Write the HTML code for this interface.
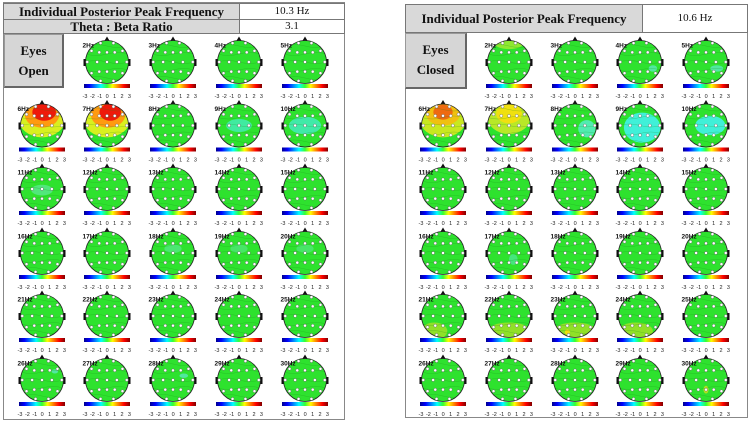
<!DOCTYPE html>
<html><head><meta charset="utf-8">
<style>
body{margin:0;background:#fff;width:750px;height:423px;overflow:hidden;position:relative;font-family:"Liberation Serif",serif}
.b{position:absolute;box-sizing:border-box}
.hd{background:#d9d9d9;border:1px solid #777;font-weight:bold;font-size:13px;text-align:center;color:#111}
.val{background:#fff;border:1px solid #777;font-size:11px;text-align:center;color:#111}
.eye{background:#d6d6d6;border:1px solid #999;border-right:2px solid #666;border-bottom:2px solid #666;font-weight:bold;font-size:13px;text-align:center;line-height:20px;padding-top:6px;color:#111}
svg{position:absolute;left:0;top:0}
</style></head><body>
<div class="b" style="left:3px;top:2px;width:342px;height:418px;border:1px solid #888"></div>
<div class="b hd" style="left:3px;top:3px;width:237px;height:17px;line-height:15px">Individual Posterior Peak Frequency</div>
<div class="b val" style="left:239px;top:3px;width:106px;height:17px;line-height:15px">10.3 Hz</div>
<div class="b hd" style="left:3px;top:19px;width:237px;height:15px;line-height:13px">Theta : Beta Ratio</div>
<div class="b val" style="left:239px;top:19px;width:106px;height:15px;line-height:13px">3.1</div>
<div class="b eye" style="left:4px;top:34px;width:60px;height:54px">Eyes<br>Open</div>

<div class="b" style="left:405px;top:4px;width:343px;height:414px;border:1px solid #888"></div>
<div class="b hd" style="left:405px;top:4px;width:238px;height:29px;line-height:27px">Individual Posterior Peak Frequency</div>
<div class="b val" style="left:642px;top:4px;width:106px;height:29px;line-height:27px">10.6 Hz</div>
<div class="b eye" style="left:405px;top:33px;width:62px;height:56px">Eyes<br>Closed</div>

<svg id="s" width="750" height="423" xmlns="http://www.w3.org/2000/svg">
<defs>
<linearGradient id="jet" x1="0" x2="1" y1="0" y2="0">
<stop offset="0" stop-color="#00008f"/><stop offset="0.12" stop-color="#0000ff"/><stop offset="0.37" stop-color="#00ffff"/><stop offset="0.5" stop-color="#33ff33"/><stop offset="0.62" stop-color="#ffff00"/><stop offset="0.87" stop-color="#ff0000"/><stop offset="1" stop-color="#800000"/>
</linearGradient>
</defs>
</svg>
<script>
var s=document.getElementById('s'),h='';
var G='#2ee22e';
var E=[[-.3,-.88],[.3,-.88],[-.72,-.52],[-.36,-.45],[0,-.45],[.36,-.45],[.72,-.52],[-.92,0],[-.46,0],[0,0],[.46,0],[.92,0],[-.72,.52],[-.36,.45],[0,.45],[.36,.45],[.72,.52],[-.3,.88],[.3,.88]];
var rows=[62,125.5,189,253,316,380];
var L=[42,107,173,239,305],R=[443,509,575,640,706];
// spots: [dx,dy,rx,ry,color,opacity]
var SP={
'L6':[[0,-.35,1.1,.9,'#d8f020',1],[0,-.5,.8,.6,'#ff9a10',1],[.1,-.62,.55,.4,'#ee1a0a',1]],
'L7':[[0,-.35,1.1,.9,'#d8f020',1],[.05,-.5,.8,.6,'#ff9a10',1],[.15,-.62,.5,.4,'#ee1a0a',1]],
'L9':[[0,0,.6,.3,'#40eaa0',1]],
'L10':[[0,0,.75,.4,'#40eaa8',1]],
'L11':[[0,.05,.5,.25,'#5ae890',.8]],
'L18':[[0,-.2,.4,.2,'#5ae890',.7]],
'L19':[[0,-.2,.4,.2,'#5ae890',.6]],
'L20':[[0,-.2,.4,.2,'#5ae890',.6]],
'R2':[[0,-.9,.7,.3,'#8ee830',1]],
'R4':[[.6,.3,.2,.15,'#50e8a0',1]],
'R5':[[.5,.3,.3,.15,'#50e8a0',1]],
'R6':[[0,-.35,1.1,.9,'#c8e820',1],[0,-.55,.8,.55,'#f0c010',1],[0,-.62,.45,.35,'#ee6a10',1]],
'R7':[[0,-.4,1,.8,'#b8e828',1],[0,-.55,.6,.45,'#f0e010',1]],
'R8':[[.55,.15,.4,.4,'#50ecb0',1]],
'R9':[[.1,.1,.85,.7,'#40f0d8',1]],
'R10':[[.2,0,.7,.45,'#40f0d8',1]],
'R17':[[.2,.3,.2,.25,'#50e8a0',.7]],
'R21':[[-.4,.7,.6,.4,'#90e028',1]],
'R22':[[0,.7,1,.4,'#90e028',1]],
'R23':[[0,.7,1,.4,'#90e028',1],[-.35,.75,.12,.12,'#f0e010',1]],
'R24':[[-.2,.7,.8,.4,'#90e028',1]],
'R30':[[0,.45,.12,.18,'#b0e020',1]],
'L26':[[.6,-.4,.15,.1,'#50e8a0',1]],
'L28':[[.5,-.2,.2,.1,'#50e8a0',1]]
};
var id=0;
function head(cx,cy,lab,key){
 var r=21.5;id++;
 h+='<clipPath id="c'+id+'"><circle cx="'+cx+'" cy="'+cy+'" r="'+r+'"/></clipPath>';
 h+='<polygon points="'+(cx-3)+','+(cy-r+1)+' '+cx+','+(cy-r-4)+' '+(cx+3)+','+(cy-r+1)+'" fill="#111"/>';
 h+='<rect x="'+(cx-r-2)+'" y="'+(cy-3)+'" width="3" height="7" fill="#111"/><rect x="'+(cx+r-1)+'" y="'+(cy-3)+'" width="3" height="7" fill="#111"/>';
 h+='<circle cx="'+cx+'" cy="'+cy+'" r="'+r+'" fill="'+G+'"/>';
 var sp=SP[key]||[];
 h+='<g clip-path="url(#c'+id+')">';
 sp.forEach(function(p){h+='<ellipse cx="'+(cx+p[0]*r)+'" cy="'+(cy+p[1]*r)+'" rx="'+(p[2]*r)+'" ry="'+(p[3]*r)+'" fill="'+p[4]+'" opacity="'+p[5]+'"/>';});
 for(var k=-2;k<=2;k++)h+='<path d="M'+(cx-r)+','+(cy+k*8)+' q'+r/2+','+(k%2?3:-3)+' '+r+',0 t'+r+',0" fill="none" stroke="#1a8a1a" stroke-width="0.3" opacity="0.6"/>';
 h+='</g><circle cx="'+cx+'" cy="'+cy+'" r="'+r+'" fill="none" stroke="#222" stroke-width="0.8"/>';
 E.forEach(function(e){h+='<circle cx="'+(cx+e[0]*r)+'" cy="'+(cy+e[1]*r)+'" r="1.5" fill="#fff" stroke="#555" stroke-width="0.4"/>';});
 h+='<text x="'+(cx-r-3)+'" y="'+(cy-r+7)+'" font-family="Liberation Sans,sans-serif" font-size="6.5" font-weight="bold" fill="#111">'+lab+'</text>';
 h+='<rect x="'+(cx-23)+'" y="'+(cy+22)+'" width="46" height="4" fill="url(#jet)"/>';
 var t=['-3','-2','-1','0','1','2','3'];
 t.forEach(function(v,i){h+='<text x="'+(cx-22+i*7.4)+'" y="'+(cy+36)+'" font-family="Liberation Sans,sans-serif" font-size="5.5" text-anchor="middle" fill="#222">'+v+'</text>';});
}
var f=2;
for(var ri=0;ri<6;ri++)for(var ci=0;ci<5;ci++){
 if(ri==0&&ci==0)continue;
 head(L[ci],rows[ri],f+'Hz','L'+f);
 head(R[ci],rows[ri],f+'Hz','R'+f);
 f++;
}
s.insertAdjacentHTML('beforeend',h);
</script>
</body></html>
